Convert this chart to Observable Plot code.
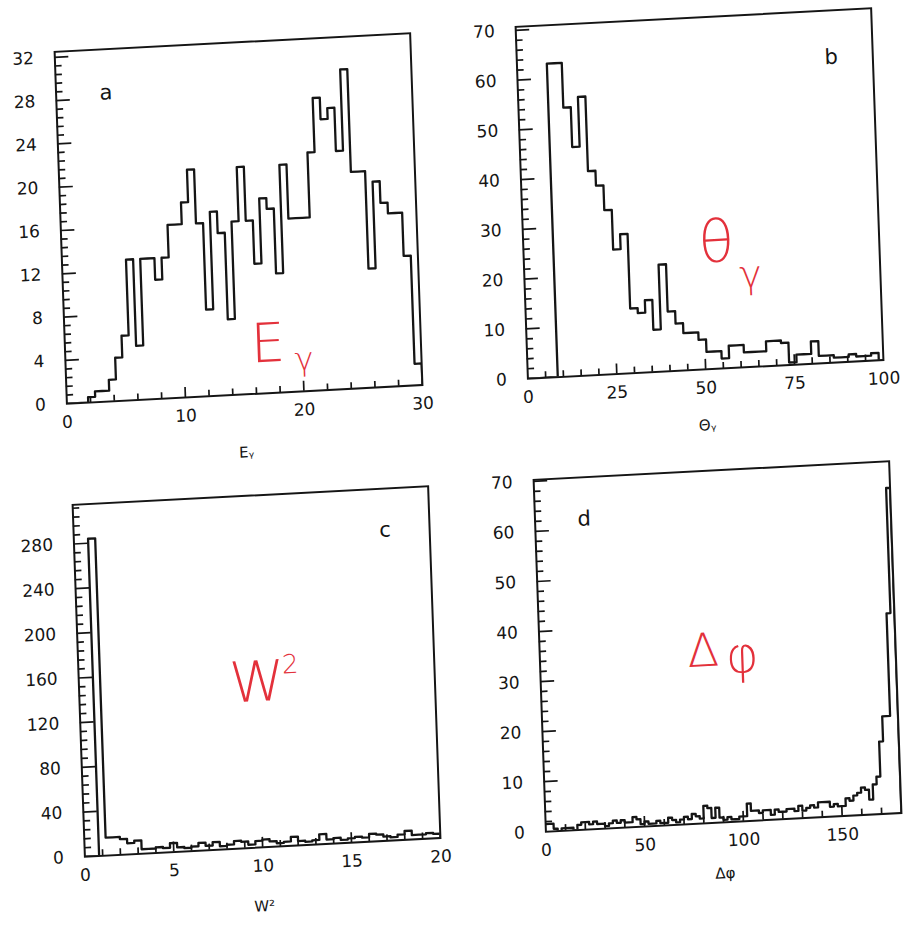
<!DOCTYPE html>
<html>
<head>
<meta charset="utf-8">
<script src="https://cdn.jsdelivr.net/npm/d3@7"></script>
<script src="https://cdn.jsdelivr.net/npm/@observablehq/plot@0.6"></script>
<style>
  html, body { margin: 0; padding: 0; background: #fff; width: 905px; height: 925px; overflow: hidden; }
  #page { position: relative; width: 905px; height: 925px; overflow: hidden; }
  .panel { position: absolute; }
</style>
</head>
<body>
<div id="page"></div>
<script>
// ---------------- data ----------------
// (a) photon energy E_gamma : 50 bins of 0.6 over 0..30
const aCounts = [0,0,0,0.5,1,1,2,4,6,13, 5,13,13,11,13,16,16,18,21,16,
                 8,17,15,7,16,21,16,12,18,17, 11,21,16,16,16,22,27,25,26,22,
                 29.5,20,20,11,19,17,16,16,12,2];
const aBinWidth = 0.6;
const aXLabels = [0, 10, 20, 30];
const aYLabels = [0, 4, 8, 12, 16, 20, 24, 28, 32];

// (b) photon angle Theta_gamma : bins of 2.1
const bCounts = [0,0,0,0,63,63,54,46,56,41, 38,33,25,28,13,12,14.5,8.5,21.5,12,
                 9.5,7.5,7.5,6,3.5,3.5,2,4.5,4.5,3, 3,3,5,5,4.5,0.5,2,2,4.5,1.5,
                 1.5,1,1,1.5,1,1,1.5];
const bBinWidth = 2.1;
const bXLabels = [0, 25, 50, 75, 100];
const bYLabels = [0, 10, 20, 30, 40, 50, 60, 70];

// (c) W^2 : 50 bins of 0.4 over 0..20
const cCounts = [0,0,284,16,16,14,10,12,4,4, 5,4,8,4,3,4,7,4,7,3,
                 4,7,6,3,6,7,5,3,4,8, 4,3,4,9,4,5,3,4,5,4,
                 7,6,4,3,5,8,4,4,5,4];
const cBinWidth = 0.4;
const cXLabels = [0, 5, 10, 15, 20];
const cYLabels = [0, 40, 80, 120, 160, 200, 240, 280];

// (d) Delta phi : 90 bins of 2 over 0..180
const dCounts = [1.5,1.5,0.5,0,0.5,0.5,0.5,0,1,1.5, 1.5,1,1.5,1,1,0.5,1,1.5,1,1.5,
                 1,1,2,1.5,0.5,1,0.5,0.5,1,0.5, 0.5,1.5,1,0.5,1,1.5,1,2,1.5,1,
                 3.5,3,1,3,1,0.5,1,0.5,0.5,1, 1,3.5,2,2,1.5,2,2,1,2,1.5,
                 1.5,2,2,1.5,2.5,1.5,2,2.5,2,3, 3,3,2,2.5,2,2,3.5,3,4,4.5,
                 5.5,5,3,6,7.5,14.5,19.5,19.5,40,65];
const dBinWidth = 2;
const dXLabels = [0, 50, 100, 150];
const dYLabels = [0, 10, 20, 30, 40, 50, 60, 70];

// panel letters, axis titles and red hand-written notes
const letters = ["a", "b", "c", "d"];
const axisTitles = ["Eᵧ", "Θᵧ", "W²", "Δφ"];
const notesA = [["E", 17.1, 4.5], ["γ", 20.1, 2.9]];
const notesB = [["θ", 54.2, 25.2], ["γ", 63.5, 18.4]];
const notesC = [["W", 10.0, 147], ["2", 11.9, 162]];
const notesD = [["Δ", 82.7, 34.3], ["φ", 102.3, 32.9]];

// ---------------- layout / style ----------------
const INK = "#151515", RED = "#e3313b";
const FW = 356, FH = 352, ML = 62, MR = 8, MT = 10, MB = 80;
const SKEW = [0.9986, -0.0523, 0.0349, 0.9994];
const NOTE_FONT = "'DejaVu Sans', sans-serif";

function outline(counts, bw) {
  const pts = counts.map((c, i) => ({x: i * bw, y: c}));
  const end = counts.length * bw;
  pts.push({x: end, y: counts[counts.length - 1]});
  pts.push({x: end, y: 0});
  return pts;
}

function tickSet(step, sub, top) {
  const n = Math.round(top / step);
  const all = d3.range(1, n + 1).map(k => ({v: +(k * step).toFixed(6), major: k % sub === 0}));
  return {major: all.filter(d => d.major).map(d => d.v), minor: all.filter(d => !d.major).map(d => d.v)};
}

function drawPanel(p) {
  const xa = p.xDomain[0], xb = p.xDomain[1], ya = p.yDomain[0], yb = p.yDomain[1];
  const ux = (xb - xa) / FW, uy = (yb - ya) / FH;   // data units per pixel
  const yt = tickSet(p.yStep, 5, p.yTop);
  const xt = tickSet(p.xStep, 5, p.xTop);
  const notes = p.notes.map((n, i) => Plot.text([n], {
    x: d => d[1], y: d => d[2], text: d => d[0],
    fontSize: p.noteSizes[i], fill: RED, fontWeight: 200, fontFamily: NOTE_FONT
  }));
  return Plot.plot({
    width: ML + FW + MR, height: MT + FH + MB,
    marginLeft: ML, marginRight: MR, marginTop: MT, marginBottom: MB,
    x: {domain: p.xDomain, axis: null},
    y: {domain: p.yDomain, axis: null},
    style: {background: "transparent", fontFamily: "DejaVu Sans, sans-serif", overflow: "visible", color: INK},
    marks: [
      Plot.ruleY(yt.minor, {y: d => d, x1: xa, x2: xa + 7 * ux, stroke: INK, strokeWidth: 1.7}),
      Plot.ruleY(yt.major, {y: d => d, x1: xa, x2: xa + 14 * ux, stroke: INK, strokeWidth: 1.7}),
      Plot.ruleX(xt.minor, {x: d => d, y1: ya, y2: ya + 6 * uy, stroke: INK, strokeWidth: 1.7}),
      Plot.ruleX(xt.major, {x: d => d, y1: ya, y2: ya + 10 * uy, stroke: INK, strokeWidth: 1.7}),
      Plot.line(outline(p.counts, p.binWidth), {x: "x", y: "y", curve: "step-after", stroke: INK, strokeWidth: 2.3, clip: true}),
      Plot.frame({stroke: INK, strokeWidth: 2}),
      Plot.axisY(p.yLabels, {anchor: "left", tickSize: 0, tickPadding: 21, fontSize: 17, label: null, fill: INK}),
      Plot.axisX(p.xLabels, {anchor: "bottom", tickSize: 0, tickPadding: 12, fontSize: 17, label: null, fill: INK}),
      Plot.text([p.letter], {x: d => p.letterAt[0], y: d => p.letterAt[1], text: d => d, fontSize: 21, fill: INK}),
      Plot.text([p.title], {frameAnchor: "bottom", dy: p.titleDy, text: d => d, fontSize: 15, fill: INK}),
      ...notes
    ]
  });
}

const panels = [
  {counts: aCounts, binWidth: aBinWidth, xDomain: [0, 30], yDomain: [0, 32.5], xLabels: aXLabels, yLabels: aYLabels,
   xStep: 2, xTop: 28, yStep: 0.8, yTop: 32, letter: letters[0], letterAt: [4.2, 28.5], title: axisTitles[0], titleDy: 63,
   notes: notesA, noteSizes: [54, 32], center: [238, 217.8]},
  {counts: bCounts, binWidth: bBinWidth, xDomain: [0, 100], yDomain: [0, 70.7], xLabels: bXLabels, yLabels: bYLabels,
   xStep: 5, xTop: 95, yStep: 2, yTop: 70, letter: letters[1], letterAt: [88.3, 61.3], title: axisTitles[1], titleDy: 61,
   notes: notesB, noteSizes: [58, 38], center: [699, 193.4]},
  {counts: cCounts, binWidth: cBinWidth, xDomain: [0, 20], yDomain: [0, 315], xLabels: cXLabels, yLabels: cYLabels,
   xStep: 1, xTop: 19, yStep: 8, yTop: 312, letter: letters[2], letterAt: [17.5, 278], title: axisTitles[2], titleDy: 64,
   notes: notesC, noteSizes: [56, 26], center: [256.2, 670.8]},
  {counts: dCounts, binWidth: dBinWidth, xDomain: [0, 180], yDomain: [0, 70.3], xLabels: dXLabels, yLabels: dYLabels,
   xStep: 10, xTop: 170, yStep: 2, yTop: 70, letter: letters[3], letterAt: [24.9, 62], title: axisTitles[3], titleDy: 56,
   notes: notesD, noteSizes: [46, 50], center: [717.2, 646.3]}
];

const page = document.getElementById("page");
const ox = ML + FW / 2, oy = MT + FH / 2;
const svgNS = "http://www.w3.org/2000/svg";
for (const p of panels) {
  const div = document.createElement("div");
  div.className = "panel";
  div.style.left = (p.center[0] - ox) + "px";
  div.style.top = (p.center[1] - oy) + "px";
  const svg = drawPanel(p);
  let done = false;
  try {
    // apply the scan's slight skew inside the SVG
    const g = document.createElementNS(svgNS, "g");
    g.setAttribute("transform", `translate(${ox},${oy}) matrix(${SKEW.join(",")},0,0) translate(${-ox},${-oy})`);
    for (const child of Array.from(svg.childNodes)) {
      if (child.nodeName.toLowerCase() !== "style") g.appendChild(child);
    }
    svg.appendChild(g);
    done = true;
  } catch (e) { done = false; }
  if (!done) {
    div.style.transformOrigin = `${ox}px ${oy}px`;
    div.style.transform = `matrix(${SKEW.join(",")},0,0)`;
  }
  div.appendChild(svg);
  page.appendChild(div);
}
</script>
</body>
</html>
